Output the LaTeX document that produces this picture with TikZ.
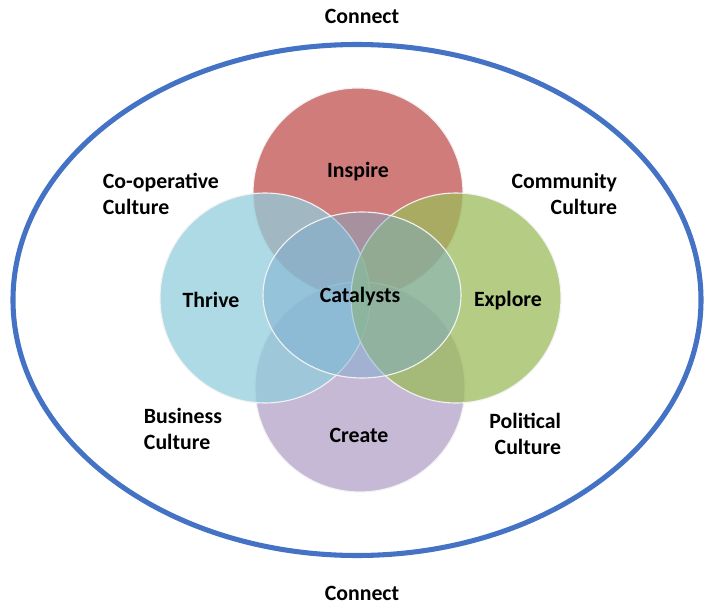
\documentclass[tikz,border=0pt]{standalone}
\usepackage{fontspec}
\setmainfont{Carlito}
\usepackage{xcolor}
\usetikzlibrary{positioning, shapes.geometric}
\definecolor{ringblue}{RGB}{68, 114, 196}
\definecolor{inspred}{RGB}{192, 80, 77}
\definecolor{thrblue}{RGB}{146, 205, 220}
\definecolor{expgreen}{RGB}{155, 187, 89}
\definecolor{crepurple}{RGB}{178, 161, 199}
\definecolor{catblue}{RGB}{120, 170, 205}

\begin{document}
\begin{tikzpicture}[
    x=0.025cm, y=-0.025cm,
    lbl/.style={font=\fontsize{15.5}{18.5}\selectfont\bfseries, align=center},
    petal/.style={circle, draw=white!90!gray, line width=0.8pt,
                  minimum size=210*0.025cm, inner sep=0pt,
                  fill opacity=0.75},
  ]
    \useasboundingbox (0,0) rectangle (711,604);
    % Outer ring
    \node[ellipse, draw=ringblue, line width=3.6pt,
          minimum width=688*0.025cm, minimum height=511*0.025cm] (ring) at (357,300) {};
    % Four overlapping circles
    \node[petal, fill=inspred]   (inspire) at (358,193) {};
    \node[petal, fill=crepurple] (create)  at (360,387) {};
    \node[petal, fill=thrblue]   (thrive)  at (265,298) {};
    \node[petal, fill=expgreen]  (explore) at (456,298) {};
    % Centre
    \node[ellipse, draw=white!90!gray, line width=0.8pt, fill=catblue,
          fill opacity=0.45, minimum width=198*0.025cm,
          minimum height=166*0.025cm] (core) at (362,295) {};

    \node[lbl] (lInspire) at (358,172) {Inspire};
    \node[lbl] (lThrive)  at (211,300) {Thrive};
    \node[lbl] (lExplore) at (508,301) {Explore};
    \node[lbl] (lCreate)  at (359,435) {Create};
    \node[lbl] (lCore)    at (360,297) {Catalysts};

    \node[lbl] (top)    at (362,16)  {Connect};
    \node[lbl] (bottom) at (362,593) {Connect};

    \node[lbl, align=left, anchor=west]  (coop)  at (98,194)  {Co-operative\\Culture};
    \node[lbl, align=right, anchor=east] (comm)  at (622,194) {Community\\Culture};
    \node[lbl, align=left, anchor=west]  (busi)  at (139,429) {Business\\Culture};
    \node[lbl, align=right, anchor=east] (poli)  at (566,434) {Political\\Culture};
  \end{tikzpicture}
\end{document}
